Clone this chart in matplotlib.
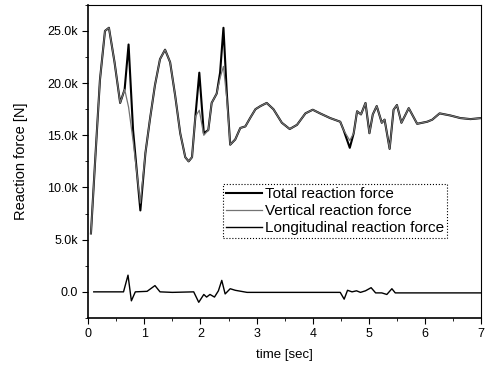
import numpy as np
import matplotlib.pyplot as plt
from matplotlib.ticker import FuncFormatter, MultipleLocator

plt.rcParams['font.family'] = ['Liberation Sans', 'DejaVu Sans']

# Data (time in s, force in N)
t_total = [0.05, 0.125, 0.21, 0.3, 0.37, 0.47, 0.57, 0.65, 0.72, 0.80, 0.93, 1.02, 1.10,
           1.19, 1.28, 1.37, 1.46, 1.55, 1.64, 1.73, 1.79, 1.85, 1.91, 1.98, 2.06, 2.14,
           2.20, 2.29, 2.35, 2.41, 2.47, 2.53, 2.62, 2.71, 2.80, 2.89, 2.98, 3.07, 3.18,
           3.30, 3.45, 3.59, 3.72, 3.87, 4.00, 4.13, 4.31, 4.49, 4.55, 4.66, 4.73, 4.79,
           4.86, 4.94, 5.01, 5.07, 5.14, 5.23, 5.28, 5.37, 5.44, 5.50, 5.58, 5.71, 5.86,
           6.04, 6.13, 6.26, 6.45, 6.63, 6.81, 7.00]
f_total = [5600, 12600, 20300, 25000, 25300, 22000, 18100, 19400, 23700, 15500, 7800, 13300, 16500,
           19800, 22300, 23200, 22000, 18800, 15200, 12900, 12500, 12900, 16800, 21000, 15200, 15500,
           18100, 19000, 21000, 25300, 19000, 14100, 14600, 15700, 15850, 16700, 17500, 17800, 18100,
           17500, 16200, 15600, 16000, 17100, 17450, 17100, 16650, 16300, 15500, 13800, 15200, 17300,
           17000, 18100, 15200, 17000, 17800, 16200, 16500, 13700, 17450, 17900, 16200, 17600, 16100,
           16300, 16500, 17100, 16900, 16650, 16550, 16650]
f_vertical = [5600, 12600, 20300, 25000, 25300, 22000, 18100, 19400, 17700, 14500, 8500, 13300, 16500,
              19800, 22300, 23200, 22000, 18800, 15200, 12900, 12500, 12900, 16800, 17400, 15000, 15500,
              18100, 19000, 20500, 21600, 18500, 14100, 14600, 15700, 15850, 16700, 17500, 17800, 18100,
              17500, 16200, 15600, 16000, 17100, 17450, 17100, 16650, 16300, 15500, 14500, 15200, 17300,
              17000, 18100, 15200, 17000, 17800, 16200, 16500, 13700, 17450, 17900, 16200, 17600, 16100,
              16300, 16500, 17100, 16900, 16650, 16550, 16650]

t_long = [0.10, 0.54, 0.63, 0.71, 0.77, 0.84, 1.05, 1.19, 1.28, 1.50, 1.88, 1.97, 2.06, 2.11, 2.17,
          2.25, 2.32, 2.38, 2.44, 2.53, 2.62, 2.83, 3.50, 4.49, 4.56, 4.62, 4.70, 4.78, 4.85,
          4.94, 5.04, 5.12, 5.23, 5.32, 5.41, 5.47, 6.00, 7.00]
f_long = [0, 0, 0, 1600, -860, 0, 50, 600, 0, -50, 0, -1000, -250, -500, -250,
          -500, 100, 1100, -200, 300, 150, -50, -50, -50, -700, 150, 0, 100, -50,
          100, 400, -100, -100, -250, 300, -100, -100, -100]

labels = ["Total reaction force", "Vertical reaction force", "Longitudinal reaction force"]

fig = plt.figure(figsize=(4.87, 3.71), dpi=100)
ax = fig.add_axes([0.181, 0.143, 0.807, 0.844])

ax.plot(t_total, f_total, color="black", lw=1.5, label=labels[0])
ax.plot(t_total, f_vertical, color="0.45", lw=0.9, label=labels[1])
ax.plot(t_long, f_long, color="black", lw=1.0, label=labels[2])

ax.set_xlim(0, 7)
ax.set_ylim(-2500, 27500)
ax.xaxis.set_major_locator(MultipleLocator(1))
ax.xaxis.set_minor_locator(MultipleLocator(0.5))
ax.yaxis.set_major_locator(MultipleLocator(5000))
ax.yaxis.set_minor_locator(MultipleLocator(2500))
ax.yaxis.set_major_formatter(FuncFormatter(lambda v, p: "0.0" if abs(v) < 1 else f"{v/1000:.1f}k"))
ax.tick_params(which="both", direction="out", labelsize=9)
ax.tick_params(which="major", length=4)
ax.tick_params(which="minor", length=2.5)
for side in ["left", "bottom"]:
    ax.spines[side].set_linewidth(1.2)
for side in ["top", "right"]:
    ax.spines[side].set_linewidth(0.8)

ax.set_xlabel("time [sec]", fontsize=9.5, labelpad=6)
ax.set_ylabel("Reaction force [N]", fontsize=10.5, labelpad=14)

leg = ax.legend(loc="upper left", bbox_to_anchor=(0.343, 0.428), fontsize=11,
                frameon=True, fancybox=False, edgecolor="black", framealpha=1,
                handlelength=2.35, borderpad=0.2, labelspacing=0.2, handletextpad=0.2,
                borderaxespad=0)
leg.get_frame().set_linewidth(0.8)
leg.get_frame().set_linestyle(":")

plt.savefig("out.png", dpi=100)
